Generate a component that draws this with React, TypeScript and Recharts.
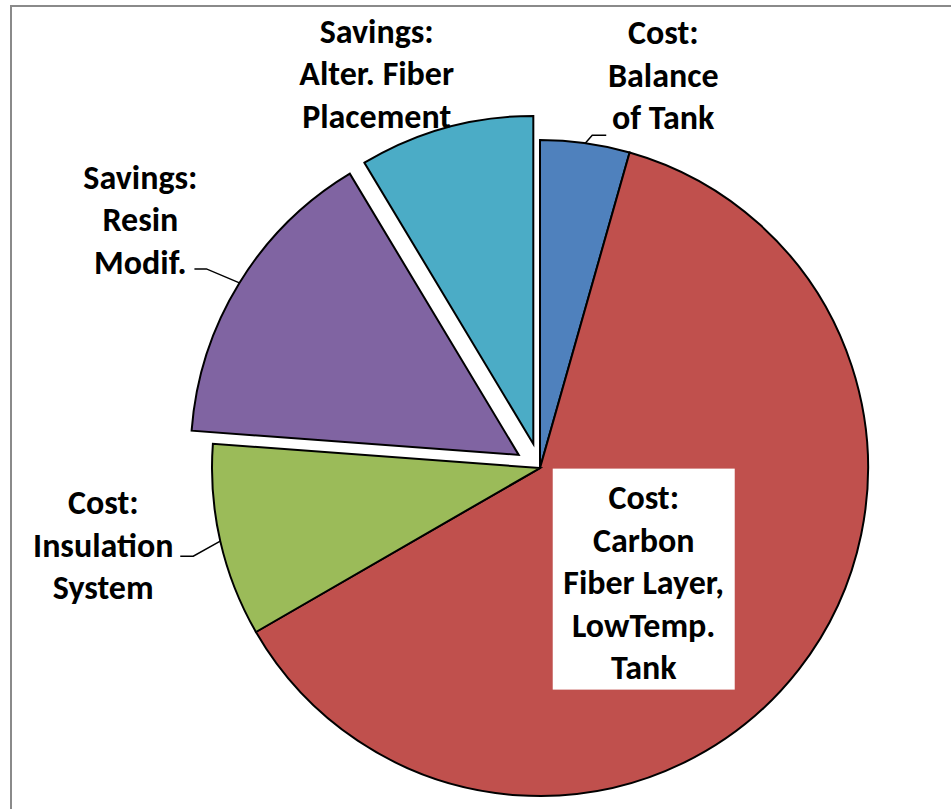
import { PieChart, Pie, Cell } from 'recharts';

const SLICE_NAMES = [
  'Cost: Balance of Tank',
  'Cost: Carbon Fiber Layer, LowTemp. Tank',
  'Cost: Insulation System',
  'Savings: Resin Modif.',
  'Savings: Alter. Fiber Placement',
];
const SLICE_VALUES = [4.4, 62.2, 9.5, 15.2, 8.6];
const LABEL_LINES = [
  ['Cost:', 'Balance', 'of Tank'],
  ['Cost:', 'Carbon', 'Fiber Layer,', 'LowTemp.', 'Tank'],
  ['Cost:', 'Insulation', 'System'],
  ['Savings:', 'Resin', 'Modif.'],
  ['Savings:', 'Alter. Fiber', 'Placement'],
];
const EXPLODED = [false, false, false, true, true];
const COLORS = ['#4F81BD', '#C0504D', '#9BBB59', '#8064A2', '#4BACC6'];

// label placement relative to the slice's outer mid point (styling only)
const LABEL_LAYOUT = [
  { dx: 78, dy: -68, elbow: [7, -8], tail: 14, box: false },
  { dx: -155, dy: -87, elbow: null, tail: 0, box: true },
  { dx: -117, dy: 4, elbow: [-27, 15], tail: -13, box: false },
  { dx: -99, dy: -63, elbow: [-33, -14], tail: -12, box: false },
  { dx: -69, dy: -54, elbow: null, tail: 0, box: false },
];

const W = 951;
const H = 809;
const CX = 540;
const CY = 468;
const R = 328;
const EXPLODE = 25;
const RAD = Math.PI / 180;
const FONT = 'Carlito, Calibri, Lato, sans-serif';
const FONT_SIZE = 34;
const LINE_H = 42.5;

const data = SLICE_NAMES.map((name, i) => ({ name, value: SLICE_VALUES[i] }));
const total = SLICE_VALUES.reduce((a, b) => a + b, 0);

// mid angle of each slice in recharts degrees (start at 12 o'clock, clockwise)
const midAngles: number[] = [];
let acc = 0;
SLICE_VALUES.forEach((v) => {
  midAngles.push(90 - (360 * (acc + v / 2)) / total);
  acc += v;
});

// one layer for the un-exploded slices, one per exploded slice
const layers = [
  { show: EXPLODED.map((e) => !e), cx: CX, cy: CY },
  ...EXPLODED.map((e, i) => ({ e, i }))
    .filter((d) => d.e)
    .map(({ i }) => ({
      show: EXPLODED.map((_, j) => j === i),
      cx: CX + EXPLODE * Math.cos(midAngles[i] * RAD),
      cy: CY - EXPLODE * Math.sin(midAngles[i] * RAD),
    })),
];

function makeLabel(show: boolean[]) {
  return (props: any) => {
    const { cx, cy, midAngle, outerRadius, index } = props;
    if (!show[index]) return <g key={`l-${index}`} />;
    const px = cx + outerRadius * Math.cos(-midAngle * RAD);
    const py = cy + outerRadius * Math.sin(-midAngle * RAD);
    const lay = LABEL_LAYOUT[index];
    const lines = LABEL_LINES[index];
    const tx = px + lay.dx;
    const ty = py + lay.dy;
    const top = ty - ((lines.length - 1) * LINE_H) / 2;
    let leader = null;
    if (lay.elbow) {
      const ex = px + lay.elbow[0];
      const ey = py + lay.elbow[1];
      leader = (
        <polyline
          points={`${px},${py} ${ex},${ey} ${ex + lay.tail},${ey}`}
          fill="none"
          stroke="#000"
          strokeWidth={1.5}
        />
      );
    }
    return (
      <g key={`l-${index}`}>
        {leader}
        {lay.box && (
          <rect x={tx - 91} y={top - 29} width={182} height={(lines.length - 1) * LINE_H + 51} fill="#fff" />
        )}
        {lines.map((ln, k) => (
          <text
            key={k}
            x={tx}
            y={top + k * LINE_H}
            textAnchor="middle"
            dominantBaseline="central"
            fontFamily={FONT}
            fontWeight="bold"
            fontSize={FONT_SIZE}
            fill="#000"
          >
            {ln}
          </text>
        ))}
      </g>
    );
  };
}

export default function App() {
  return (
    <div style={{ position: 'absolute', left: 0, top: 0, width: W, height: H, overflow: 'hidden', background: '#fff' }}>
      <div
        style={{
          position: 'absolute',
          left: 10,
          top: 5,
          width: 1200,
          height: 1200,
          border: '2px solid #8a8a8a',
        }}
      />
      <div style={{ position: 'absolute', left: 0, top: 0 }}>
        <PieChart width={W} height={H} margin={{ top: 0, right: 0, bottom: 0, left: 0 }}>
          {layers.map((layer, li) => (
            <Pie
              key={li}
              data={data}
              dataKey="value"
              nameKey="name"
              cx={layer.cx}
              cy={layer.cy}
              outerRadius={R}
              startAngle={90}
              endAngle={-270}
              isAnimationActive={false}
              labelLine={false}
              label={makeLabel(layer.show)}
            >
              {data.map((d, i) => (
                <Cell
                  key={d.name}
                  fill={layer.show[i] ? COLORS[i] : 'none'}
                  stroke={layer.show[i] ? '#000' : 'none'}
                  strokeWidth={2}
                />
              ))}
            </Pie>
          ))}
        </PieChart>
      </div>
    </div>
  );
}
